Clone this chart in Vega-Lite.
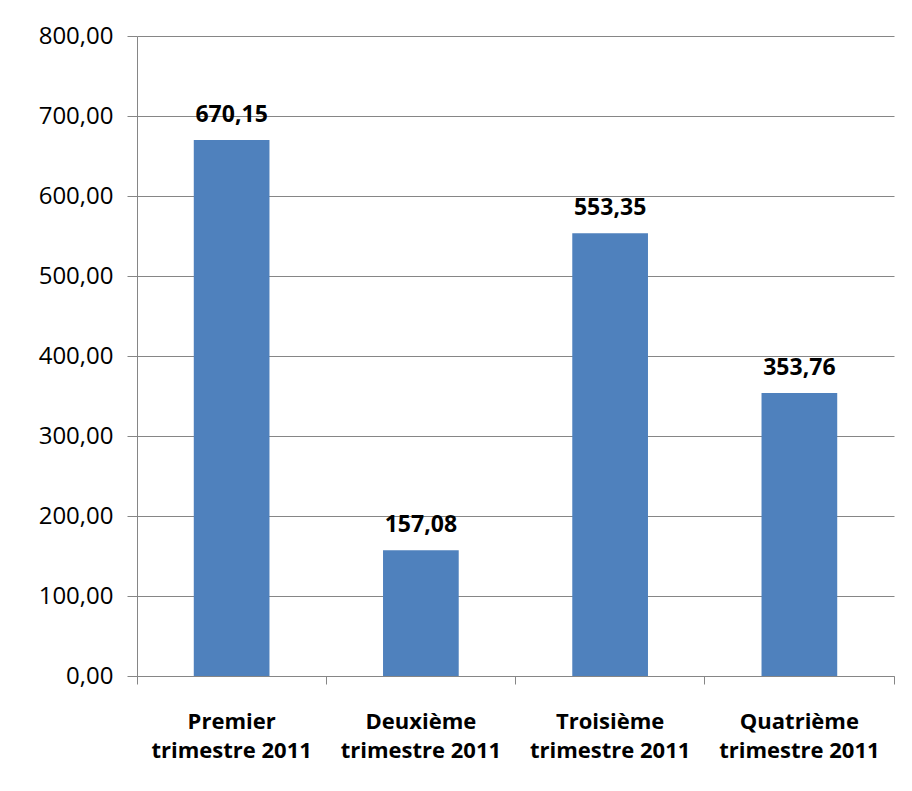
{
  "$schema": "https://vega.github.io/schema/vega-lite/v6.json",
  "width": 757,
  "height": 640,
  "autosize": {"type": "none"},
  "padding": {"left": 137, "top": 36, "right": 18, "bottom": 115},
  "background": "white",
  "config": {
    "view": {"stroke": null},
    "font": "Open Sans"
  },
  "data": {
    "values": [
      {"trimestre": "Premier trimestre 2011", "valeur": 670.15},
      {"trimestre": "Deuxième trimestre 2011", "valeur": 157.08},
      {"trimestre": "Troisième trimestre 2011", "valeur": 553.35},
      {"trimestre": "Quatrième trimestre 2011", "valeur": 353.76}
    ]
  },
  "transform": [
    {"calculate": "replace(format(datum.valeur, '.2f'), '.', ',')", "as": "etiquette"}
  ],
  "encoding": {
    "x": {
      "field": "trimestre",
      "type": "nominal",
      "sort": null,
      "scale": {"paddingInner": 0, "paddingOuter": 0},
      "axis": {
        "title": null,
        "labelAngle": 0,
        "bandPosition": 1,
        "tickExtra": true,
        "tickSize": 8,
        "tickColor": "#868686",
        "domainColor": "#868686",
        "labelFont": "Open Sans",
        "labelFontWeight": "bold",
        "labelFontSize": 22,
        "labelColor": "#000000",
        "labelPadding": 27,
        "labelLineHeight": 29,
        "labelExpr": "[substring(datum.label, 0, indexof(datum.label, ' ')), substring(datum.label, indexof(datum.label, ' ') + 1)]"
      }
    },
    "y": {
      "field": "valeur",
      "type": "quantitative",
      "scale": {"domain": [0, 800], "nice": false},
      "axis": {
        "title": null,
        "values": [0, 100, 200, 300, 400, 500, 600, 700, 800],
        "labelExpr": "replace(format(datum.value, '.2f'), '.', ',')",
        "grid": true,
        "gridColor": "#868686",
        "gridWidth": 1,
        "tickSize": 10,
        "tickColor": "#868686",
        "domainColor": "#868686",
        "labelFont": "Open Sans",
        "labelFontSize": 24,
        "labelColor": "#000000",
        "labelPadding": 14
      }
    }
  },
  "layer": [
    {
      "mark": {"type": "bar", "color": "#4F81BD", "width": {"band": 0.4}}
    },
    {
      "mark": {
        "type": "text",
        "baseline": "alphabetic",
        "dy": -18,
        "font": "Open Sans",
        "fontWeight": "bold",
        "fontSize": 23,
        "color": "#000000"
      },
      "encoding": {"text": {"field": "etiquette"}}
    }
  ]
}
